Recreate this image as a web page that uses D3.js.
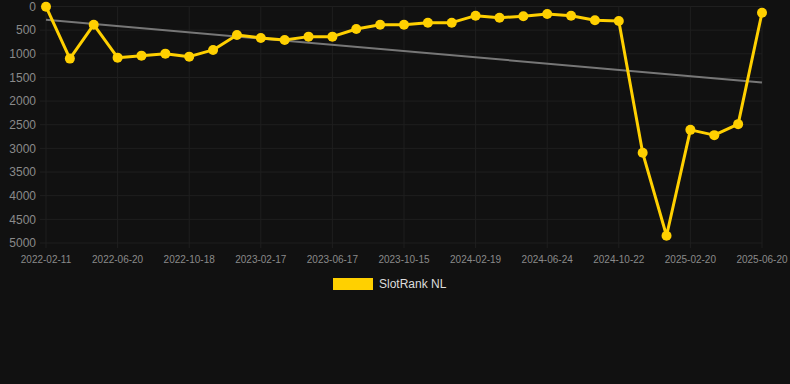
<!DOCTYPE html>
<html>
<head>
<meta charset="utf-8">
<script src="https://cdn.jsdelivr.net/npm/d3@7"></script>
<style>
  html, body { margin: 0; padding: 0; background: #111111; }
  svg { display: block; font-family: "Liberation Sans", Arial, sans-serif; }
</style>
</head>
<body>
<svg id="chart" width="790" height="384"></svg>
<script>
// rank values, one per sample (lower = better)
const ranks = [5, 1102, 384, 1081, 1039, 997, 1060, 918, 602, 665, 707, 637, 637, 475, 384,
  384, 342, 342, 194, 236, 207, 158, 194, 291, 306, 3093, 4846, 2608, 2720, 2487, 131];
// date labels shown on the x axis (every third sample)
const tickLabels = ["2022-02-11", "2022-06-20", "2022-10-18", "2023-02-17", "2023-06-17",
  "2023-10-15", "2024-02-19", "2024-06-24", "2024-10-22", "2025-02-20", "2025-06-20"];
const yTicks = [0, 500, 1000, 1500, 2000, 2500, 3000, 3500, 4000, 4500, 5000];
const seriesName = "SlotRank NL";

const width = 790, height = 384;
const margin = {top: 6.5, right: 28, bottom: 141, left: 46};
const svg = d3.select("#chart");

const idx = d3.range(ranks.length);
const x = d3.scalePoint()
  .domain(idx)
  .range([margin.left, width - margin.right]);
const y = d3.scaleLinear()
  .domain([0, 5000])
  .range([margin.top, height - margin.bottom]);

const gridColor = "#1f1f1f";

// grid
svg.append("g")
  .selectAll("line")
  .data(yTicks)
  .join("line")
  .attr("x1", margin.left - 6)
  .attr("x2", width - margin.right)
  .attr("y1", d => y(d))
  .attr("y2", d => y(d))
  .attr("stroke", gridColor)
  .attr("stroke-width", 1);

const tickIdx = idx.filter(i => i % 3 === 0);
svg.append("g")
  .selectAll("line")
  .data(tickIdx)
  .join("line")
  .attr("x1", d => x(d))
  .attr("x2", d => x(d))
  .attr("y1", margin.top)
  .attr("y2", height - margin.bottom + 5)
  .attr("stroke", gridColor)
  .attr("stroke-width", 1);

// y labels
svg.append("g")
  .selectAll("text")
  .data(yTicks)
  .join("text")
  .attr("x", 36)
  .attr("y", d => y(d))
  .attr("dy", "0.35em")
  .attr("text-anchor", "end")
  .attr("fill", "#8a8a8a")
  .attr("font-size", 12)
  .text(d => d);

// x labels
svg.append("g")
  .selectAll("text")
  .data(tickIdx)
  .join("text")
  .attr("x", d => x(d))
  .attr("y", 263)
  .attr("text-anchor", "middle")
  .attr("fill", "#8a8a8a")
  .attr("font-size", 10)
  .text((d, i) => tickLabels[i]);

// least squares trend
const mx = d3.mean(idx), my = d3.mean(ranks);
const slope = d3.sum(idx, i => (i - mx) * (ranks[i] - my)) / d3.sum(idx, i => (i - mx) * (i - mx));
const trend = i => my + slope * (i - mx);
svg.append("line")
  .attr("x1", x(0))
  .attr("x2", x(ranks.length - 1))
  .attr("y1", y(trend(0)))
  .attr("y2", y(trend(ranks.length - 1)))
  .attr("stroke", "#777777")
  .attr("stroke-width", 2);

// series
const gold = "#ffd000";
svg.append("path")
  .datum(ranks)
  .attr("fill", "none")
  .attr("stroke", gold)
  .attr("stroke-width", 3)
  .attr("stroke-linejoin", "round")
  .attr("d", d3.line().x((d, i) => x(i)).y(d => y(d)));

svg.append("g")
  .selectAll("circle")
  .data(ranks)
  .join("circle")
  .attr("cx", (d, i) => x(i))
  .attr("cy", d => y(d))
  .attr("r", 5)
  .attr("fill", gold);

// legend
svg.append("rect")
  .attr("x", 333).attr("y", 278)
  .attr("width", 40).attr("height", 12)
  .attr("fill", gold);
svg.append("text")
  .attr("x", 379).attr("y", 284)
  .attr("dy", "0.35em")
  .attr("fill", "#dddddd")
  .attr("font-size", 12)
  .text(seriesName);
</script>
</body>
</html>
